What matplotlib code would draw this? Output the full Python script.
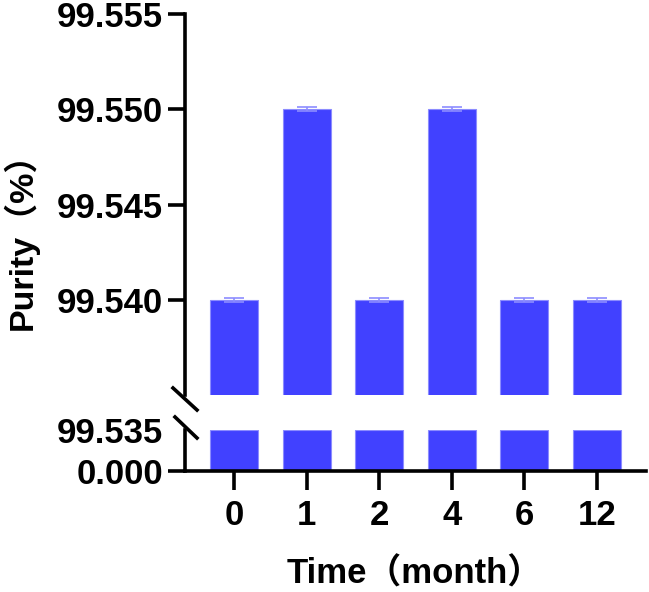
import matplotlib
matplotlib.use("Agg")
import matplotlib.pyplot as plt
from matplotlib.lines import Line2D
import numpy as np

# data
months = ["0", "1", "2", "4", "6", "12"]
purity = [99.540, 99.550, 99.540, 99.550, 99.540, 99.540]
purity_sd = [0.0001, 0.0001, 0.0001, 0.0001, 0.0001, 0.0001]

upper_ticks = [99.540, 99.545, 99.550, 99.555]
lower_ticks = [0.0, 99.535]
break_val = 99.535

plt.rcParams['font.family'] = ['Liberation Sans', 'Noto Sans CJK SC', 'DejaVu Sans']
plt.rcParams['font.weight'] = 'bold'

W, H = 649, 592
fig = plt.figure(figsize=(W / 100, H / 100), dpi=100)

def fx(px):
    return px / W

def fy(py):
    return 1 - py / H

left, right = fx(185), fx(646)
ax_top = fig.add_axes([left, fy(395), right - left, fy(14) - fy(395)])
ax_bot = fig.add_axes([left, fy(471), right - left, fy(430) - fy(471)])

x = np.arange(len(months))
bar_color = '#4141ff'
edge_color = '#8c8cff'
lw = 2.6

for ax in (ax_top, ax_bot):
    ax.bar(x, purity, width=0.66, color=bar_color, edgecolor=edge_color, linewidth=0.8)
    ax.set_xlim(-0.675, 5.675)
    for s in ['top', 'right']:
        ax.spines[s].set_visible(False)
    ax.spines['left'].set_linewidth(lw)
    ax.spines['bottom'].set_linewidth(lw)
    ax.tick_params(axis='y', width=lw, length=12, labelsize=25, pad=4)
    ax.tick_params(axis='x', width=lw, length=14, labelsize=25, pad=6)

# error bars only show on the upper part
ax_top.errorbar(x, purity, yerr=purity_sd, fmt='none', ecolor=edge_color,
                elinewidth=1.2, capsize=7, capthick=1.2)

ax_top.set_ylim(break_val, 99.555)
ax_top.set_yticks(upper_ticks)
ax_top.set_yticklabels([f"{v:.3f}" for v in upper_ticks])
ax_top.spines['bottom'].set_visible(False)
ax_top.set_xticks([])

ax_bot.set_ylim(0, break_val)
ax_bot.set_yticks(lower_ticks)
ax_bot.set_yticklabels([f"{v:.3f}" for v in lower_ticks])
ax_bot.yaxis.get_major_ticks()[1].tick1line.set_visible(False)
ax_bot.set_xticks(x)
ax_bot.set_xticklabels(months)

for lab in ax_top.get_yticklabels() + ax_bot.get_yticklabels() + ax_bot.get_xticklabels():
    lab.set_fontweight('bold')

# break marks
for (x0, y0, x1, y1) in [(173, 388, 197, 410), (175, 417, 197, 438)]:
    fig.add_artist(Line2D([fx(x0), fx(x1)], [fy(y0), fy(y1)], color='black', linewidth=lw))

fig.text(fx(21), fy(233), "Purity（%）", rotation=90, ha='center', va='center',
         fontsize=24.5, fontweight='bold')
fig.text(fx(415), fy(574), "Time（month）", ha='center', va='center',
         fontsize=25, fontweight='bold')

fig.savefig("out.png", dpi=100)
